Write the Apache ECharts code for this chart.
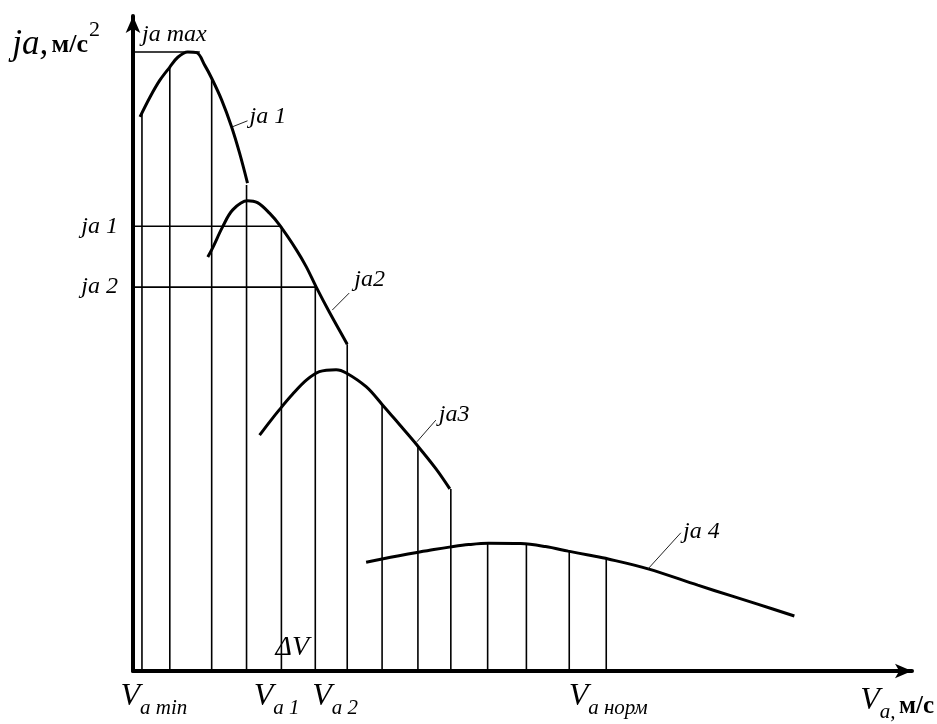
<!DOCTYPE html>
<html>
<head>
<meta charset="utf-8">
<script src="https://cdn.jsdelivr.net/npm/echarts@6/dist/echarts.min.js"></script>
<style>
  html, body { margin: 0; padding: 0; background: #fff; }
  #chart { width: 937px; height: 724px; }
</style>
</head>
<body>
<div id="chart"></div>
<script>
// Acceleration characteristic j_a(V_a) across four gears, with the
// speed range split into ΔV steps for the integration.

// Speed axis V_a, m/s; acceleration axis j_a, m/s²
const speedRange = [0, 40];
const accelRange = [0, 10];

// Gear curves: [speed, acceleration]
const gear1 = [[0.36,8.46],[0.87,8.76],[1.38,9.02],[1.89,9.22],[2.30,9.37],[2.81,9.45],[3.27,9.44],
               [3.68,9.25],[4.04,9.05],[4.55,8.72],[5.06,8.31],[5.47,7.91],[5.88,7.45]];
const gear2 = [[3.84,6.32],[4.09,6.46],[4.60,6.78],[5.12,7.04],[5.88,7.18],[6.39,7.15],[7.01,6.99],
               [7.52,6.81],[8.39,6.43],[8.90,6.17],[9.41,5.86],[10.08,5.48],[11.00,4.99]];
const gear3 = [[6.50,3.60],[7.01,3.80],[7.52,3.99],[8.18,4.22],[8.90,4.44],[9.57,4.57],[10.43,4.60],
               [10.95,4.55],[11.97,4.34],[12.79,4.07],[13.66,3.77],[14.58,3.45],[15.55,3.09],[16.27,2.78]];
const gear4 = [[11.97,1.66],[12.79,1.71],[13.66,1.76],[14.58,1.81],[15.45,1.855],[16.32,1.895],[17.24,1.93],
               [18.26,1.95],[19.90,1.945],[21.18,1.90],[22.35,1.83],[23.38,1.77],[24.40,1.71],[26.45,1.56],
               [29.00,1.31],[30.69,1.15],[32.07,1.02],[33.96,0.84]];

// ΔV step boundaries and the acceleration reached at each one
const stepSpeeds = [0.46, 1.89, 4.04, 5.83, 7.62, 9.36, 11.00, 12.79, 14.63, 16.32, 18.21, 20.20, 22.40, 24.30];
const stepAccels = [8.52, 9.22, 9.05, 7.42, 6.79, 5.88, 4.99, 4.07, 3.45, 2.78, 1.95, 1.945, 1.83, 1.71];

// Reference acceleration levels and the speed where each guide line ends
const refLevels = [9.45, 6.79, 5.86];
const refEnds = [3.43, 7.62, 9.36];

// Axis marks
const speedMarks = [1.07, 7.37, 10.38, 24.40];
const speedMarkLabels = ['{v|V}{s|a min}', '{v|V}{s|a 1}', '{v|V}{s|a 2}', '{v|V}{s|a норм}'];
const accelMarks = [6.79, 5.86];
const accelMarkLabels = ['ja 1', 'ja 2'];

// Curve annotations
const noteTexts = ['ja max', 'ja 1', 'ja2', 'ja3', 'ja 4', 'ΔV'];
const noteSizes = [24, 24, 24, 24, 24, 28];
const noteAnchors = [[0.46,9.71],[5.98,8.47],[11.36,5.97],[15.70,3.92],[28.24,2.12],[7.32,0.35]];
const noteLeaders = [null, [[5.12,8.31],[5.88,8.40]], [[10.23,5.51],[11.10,5.77]],
                     [[14.58,3.50],[15.55,3.83]], [[26.45,1.56],[28.13,2.11]], null];

const SERIF = '"Liberation Serif", "Times New Roman", "DejaVu Serif", serif';
const INK = '#000';

function pick(values, labels, v) {
  for (let i = 0; i < values.length; i++) {
    if (Math.abs(values[i] - v) < 1e-6) return labels[i];
  }
  return '';
}

const chart = echarts.init(document.getElementById('chart'), null, { renderer: 'canvas' });

const axisLineStyle = {
  show: true,
  onZero: false,
  symbol: ['none', 'arrow'],
  symbolSize: [11, 17],
  lineStyle: { color: INK, width: 4 }
};

const curveSeries = [gear1, gear2, gear3, gear4].map((data, i) => ({
  name: 'gear' + (i + 1),
  type: 'line',
  data: data,
  smooth: 0.35,
  showSymbol: false,
  symbol: 'none',
  z: 5,
  lineStyle: { color: INK, width: 3 }
}));

const option = {
  animation: false,
  backgroundColor: '#fff',
  grid: { left: 133, right: 22, top: 16, bottom: 53 },
  xAxis: {
    type: 'value',
    min: speedRange[0],
    max: speedRange[1],
    axisLine: axisLineStyle,
    axisTick: { show: false },
    splitLine: { show: false },
    axisLabel: {
      customValues: speedMarks,
      margin: 10,
      formatter: v => pick(speedMarks, speedMarkLabels, v),
      rich: {
        v: { fontFamily: SERIF, fontStyle: 'italic', fontSize: 32, color: INK, verticalAlign: 'bottom', padding: [0, 0, 6, 0] },
        s: { fontFamily: SERIF, fontStyle: 'italic', fontSize: 21, color: INK, verticalAlign: 'bottom' }
      }
    },
    name: '{v|V}{s|a,} {u|м/с}',
    nameLocation: 'end',
    nameGap: 22,
    nameTextStyle: {
      align: 'right',
      verticalAlign: 'top',
      padding: [14, 0, 0, 0],
      rich: {
        v: { fontFamily: SERIF, fontStyle: 'italic', fontSize: 32, color: INK, verticalAlign: 'bottom', padding: [0, 0, 6, 0] },
        s: { fontFamily: SERIF, fontStyle: 'italic', fontSize: 21, color: INK, verticalAlign: 'bottom' },
        u: { fontFamily: SERIF, fontWeight: 'bold', fontSize: 25, color: INK, verticalAlign: 'bottom', padding: [0, 0, 4, 0] }
      }
    }
  },
  yAxis: {
    type: 'value',
    min: accelRange[0],
    max: accelRange[1],
    axisLine: axisLineStyle,
    axisTick: { show: false },
    splitLine: { show: false },
    axisLabel: {
      customValues: accelMarks,
      margin: 15,
      fontFamily: SERIF,
      fontStyle: 'italic',
      fontSize: 24,
      color: INK,
      formatter: v => pick(accelMarks, accelMarkLabels, v)
    },
    name: '{j|ja,} {u|м/с}{p|2}',
    nameLocation: 'end',
    nameGap: -3,
    nameTextStyle: {
      align: 'right',
      verticalAlign: 'top',
      padding: [0, 33, 0, 0],
      rich: {
        j: { fontFamily: SERIF, fontStyle: 'italic', fontSize: 35, color: INK, verticalAlign: 'bottom' },
        u: { fontFamily: SERIF, fontWeight: 'bold', fontSize: 26, color: INK, verticalAlign: 'bottom', padding: [0, 0, 4, 0] },
        p: { fontFamily: SERIF, fontSize: 22, color: INK, verticalAlign: 'bottom', padding: [0, 0, 21, 1] }
      }
    }
  },
  series: [
    {
      // ΔV step boundaries
      name: 'steps',
      type: 'custom',
      z: 2,
      data: stepSpeeds.map((v, i) => [v, stepAccels[i]]),
      renderItem: (params, api) => {
        const p0 = api.coord([api.value(0), 0]);
        const p1 = api.coord([api.value(0), api.value(1)]);
        return {
          type: 'line',
          shape: { x1: p0[0], y1: p0[1], x2: p1[0], y2: p1[1] },
          style: { stroke: INK, lineWidth: 1.6 }
        };
      }
    },
    {
      // guide lines from the acceleration axis
      name: 'levels',
      type: 'custom',
      z: 2,
      data: refLevels.map((v, i) => [refEnds[i], v]),
      renderItem: (params, api) => {
        const p0 = api.coord([0, api.value(1)]);
        const p1 = api.coord([api.value(0), api.value(1)]);
        return {
          type: 'line',
          shape: { x1: p0[0], y1: p0[1], x2: p1[0], y2: p1[1] },
          style: { stroke: INK, lineWidth: 1.6 }
        };
      }
    },
    ...curveSeries,
    {
      // curve names with leader lines
      name: 'notes',
      type: 'custom',
      z: 6,
      data: noteAnchors,
      renderItem: (params, api) => {
        const i = params.dataIndex;
        const at = api.coord([api.value(0), api.value(1)]);
        const children = [{
          type: 'text',
          x: at[0],
          y: at[1],
          style: {
            text: noteTexts[i],
            font: 'italic ' + noteSizes[i] + 'px ' + SERIF,
            fill: INK,
            align: 'left',
            verticalAlign: 'middle'
          }
        }];
        const ld = noteLeaders[i];
        if (ld) {
          const a = api.coord(ld[0]);
          const b = api.coord(ld[1]);
          children.push({
            type: 'line',
            shape: { x1: a[0], y1: a[1], x2: b[0], y2: b[1] },
            style: { stroke: '#222', lineWidth: 1 }
          });
        }
        return { type: 'group', children: children };
      }
    }
  ]
};

chart.setOption(option);
</script>
</body>
</html>
